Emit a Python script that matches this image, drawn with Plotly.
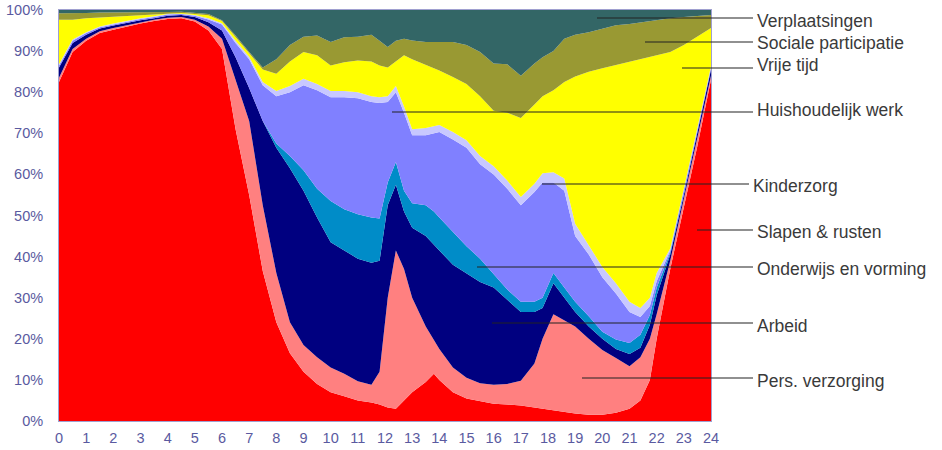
import plotly.graph_objects as go

# ---- data: hour of day and cumulative share (%) at the top of each layer ----
TIJD = [0, 0.5, 1, 1.5, 2, 2.5, 3, 3.5, 4, 4.5, 5, 5.5, 6, 6.5, 7, 7.5, 8, 8.5, 9, 9.5, 10, 10.5, 11, 11.5,
        11.8, 12.1, 12.4, 12.7, 13, 13.5, 13.8, 14, 14.5, 15, 15.5, 16, 16.5, 17, 17.5, 17.8,
        18.2, 18.6, 19, 19.5, 20, 20.5, 21, 21.4, 21.75, 22, 22.5, 23, 23.5, 24]

slapen_rusten = [82.5, 89.8, 92.5, 94.4, 95.2, 96, 96.7, 97.3, 97.8, 98, 97.2, 95, 90.5, 71, 55, 36.5, 24, 16.5, 12, 9, 7, 6, 5, 4.5,
                 4, 3.3, 3, 5, 7, 9.5, 11.5, 10, 7, 5.5, 4.8, 4.2, 4, 3.8, 3.3, 3,
                 2.7, 2.3, 1.8, 1.5, 1.5, 2, 3, 5, 10, 20, 37, 52, 67, 83]
pers_verzorging = [83.5, 90.5, 93, 94.8, 95.6, 96.3, 97, 97.6, 98.1, 98.3, 97.6, 96, 93, 83, 73, 52.5, 36, 24, 18.5, 15.5, 13, 11.5, 9.7, 8.8,
                   12, 30, 41.5, 37, 30, 23, 19.5, 17.5, 13, 10.5, 9.2, 8.8, 9, 9.8, 14, 20,
                   26, 24.5, 23, 20, 17.3, 15.3, 13.3, 15.5, 20, 26, 39, 54, 69, 84]
arbeid = [86, 92, 94, 95.5, 96.2, 96.9, 97.5, 98, 98.6, 98.8, 98.3, 97, 95, 88.5, 81, 73, 66.5, 61.5, 56, 49.5, 43.5, 41.5, 39.5, 38.5,
          39, 52.5, 57.5, 51, 47, 45, 43, 41.5, 38, 36, 33.8, 32.5, 29.5, 26.5, 26.5, 27.5,
          33.5, 30, 26.5, 23, 20, 17.5, 16.3, 17.8, 23.4, 30.6, 40.5, 55, 70, 85.5]
onderwijs = [86, 92, 94, 95.5, 96.2, 96.9, 97.5, 98, 98.6, 98.8, 98.3, 97, 95, 88.5, 81, 73, 67.5, 64.5, 61, 56.5, 53.5, 51.5, 50.3, 49.5,
             49.3, 58, 63, 56, 53, 52.5, 51, 49.5, 46, 42.5, 39.5, 35.8, 32, 29, 29, 30,
             36, 32.5, 29, 25.5, 21.7, 19.8, 19, 21, 25.8, 32.4, 41, 55.2, 70.1, 85.6]
huishoudelijk = [86.5, 92.5, 94.4, 95.8, 96.5, 97.2, 97.8, 98.3, 98.9, 99, 98.6, 97.7, 96.5, 92, 88, 81.7, 79, 80, 81.7, 80.5, 78.8, 78.8, 78.5, 77.6,
                 77.4, 77.6, 80, 75, 69.5, 69.5, 70, 70.3, 68.5, 66.5, 62.5, 60, 56.5, 52.5, 55.7, 58,
                 58, 56, 45, 40.5, 35, 31, 26.5, 25.3, 28, 34, 41.5, 56, 71, 86]
kinderzorg = [86.8, 92.8, 94.6, 96, 96.7, 97.4, 98, 98.5, 99, 99.1, 98.8, 98, 96.8, 92.5, 88.6, 82.5, 80.3, 81.5, 83.3, 82, 80.3, 80.3, 80, 79,
              78.8, 79, 81.5, 76.5, 71, 71.3, 71.8, 72, 70.3, 68.3, 64.5, 62, 58.5, 54.5, 57.7, 60.3,
              60.5, 59, 48, 42.8, 37.5, 33.5, 29, 27.5, 30, 36, 42, 56.5, 71.5, 86.3]
vrije_tijd = [97.6, 97.6, 98, 98.2, 98.3, 98.5, 98.8, 99, 99.2, 99.3, 99, 98.7, 97.3, 93.5, 89.5, 85.5, 84.5, 87.5, 89.8, 89, 86.5, 87.3, 87.7, 87.5,
              86.5, 86, 87.5, 89, 88, 86.6, 85.8, 85.3, 83.7, 82, 79, 75.5, 75, 73.7, 77, 79,
              80.5, 82.5, 83.8, 85, 85.8, 86.6, 87.5, 88.2, 88.7, 89, 89.8, 91.5, 93.5, 95.6]
sociale_participatie = [99.2, 99.2, 99.3, 99.4, 99.4, 99.5, 99.5, 99.5, 99.5, 99.6, 99.3, 99, 97.5, 93.8, 89.8, 86, 88, 91.5, 93.5, 93.8, 92.2, 93.4, 93.5, 94,
                        92.5, 91, 92.5, 93, 92.6, 92.2, 92.2, 92.2, 92.2, 91.5, 89.8, 87, 86.8, 84, 87, 88.5,
                        90, 93, 94, 94.6, 95.5, 96.3, 96.6, 97, 97.3, 97.5, 98, 98.3, 98.5, 98.8]
verplaatsingen = [100, 100, 100, 100, 100, 100, 100, 100, 100, 100, 100, 100, 100, 100, 100, 100, 100, 100, 100, 100, 100, 100, 100, 100,
                  100, 100, 100, 100, 100, 100, 100, 100, 100, 100, 100, 100, 100, 100, 100, 100,
                  100, 100, 100, 100, 100, 100, 100, 100, 100, 100, 100, 100, 100, 100]

X_TICKS = [0, 1, 2, 3, 4, 5, 6, 7, 8, 9, 10, 11, 12, 13, 14, 15, 16, 17, 18, 19, 20, 21, 22, 23, 24]
X_LABELS = ["0", "1", "2", "3", "4", "5", "6", "7", "8", "9", "10", "11", "12",
            "13", "14", "15", "16", "17", "18", "19", "20", "21", "22", "23", "24"]
Y_TICKS = [0, 10, 20, 30, 40, 50, 60, 70, 80, 90, 100]
Y_LABELS = ["0%", "10%", "20%", "30%", "40%", "50%", "60%", "70%", "80%", "90%", "100%"]

series = [
    ("Slapen & rusten", slapen_rusten, "#FF0000"),
    ("Pers. verzorging", pers_verzorging, "#FF8080"),
    ("Arbeid", arbeid, "#000080"),
    ("Onderwijs en vorming", onderwijs, "#008CC8"),
    ("Huishoudelijk werk", huishoudelijk, "#8080FF"),
    ("Kinderzorg", kinderzorg, "#C8C8FF"),
    ("Vrije tijd", vrije_tijd, "#FFFF00"),
    ("Sociale participatie", sociale_participatie, "#999933"),
    ("Verplaatsingen", verplaatsingen, "#336666"),
]

fig = go.Figure()
for i, (name, vals, col) in enumerate(series):
    fig.add_trace(go.Scatter(
        x=TIJD, y=vals, name=name, mode="lines",
        line=dict(width=0, color=col),
        fill="tozeroy" if i == 0 else "tonexty",
        fillcolor=col, hoverinfo="name",
    ))

# ---- layout geometry (page pixels; the page body margin is removed below) ----
W, H = 942, 450
L, R, T, B = 59, 711, 10, 421          # plot area in page pixels


def px(x):
    return (x - L) / (R - L)


def py(y):
    return (B - y) / (B - T)


# leader lines: (label, start_x, line_y, text_x, text_y) in page pixels
labels = [
    ("Verplaatsingen", 597, 18, 755, 21),
    ("Sociale participatie", 645, 42, 755, 43),
    ("Vrije tijd", 682, 68, 755, 65),
    ("Huishoudelijk werk", 392, 112, 755, 110),
    ("Kinderzorg", 542, 184, 751, 186),
    ("Slapen & rusten", 697, 230, 755, 232),
    ("Onderwijs en vorming", 477, 267, 755, 269),
    ("Arbeid", 492, 323, 755, 326),
    ("Pers. verzorging", 582, 378, 755, 381),
]
shapes = []
annotations = []
for text, sx, ly, tx, ty in labels:
    shapes.append(dict(type="line", xref="paper", yref="paper",
                       x0=px(sx), x1=px(tx - 2), y0=py(ly), y1=py(ly),
                       line=dict(color="#222222", width=1.2), layer="above"))
    annotations.append(dict(text=text, xref="paper", yref="paper",
                            x=px(tx), y=py(ty), xanchor="left", yanchor="middle",
                            showarrow=False,
                            font=dict(family="Liberation Sans, Arial", size=17.5, color="#3A3A3A")))

axis_font = dict(family="Liberation Sans, Arial", size=14.5, color="#5A5AA0")
fig.update_layout(
    width=W, height=H, autosize=False,
    margin=dict(l=L, r=W - R, t=T, b=H - B, pad=0),
    paper_bgcolor="white", plot_bgcolor="white",
    showlegend=False,
    shapes=shapes, annotations=annotations,
    xaxis=dict(range=[0, 24], tickmode="array", tickvals=X_TICKS, ticktext=X_LABELS,
               showgrid=False, zeroline=False, showline=True, mirror=True,
               linecolor="#A0A0D0", linewidth=1, ticks="", tickfont=axis_font,
               ticklabelstandoff=4, automargin=False),
    yaxis=dict(range=[0, 100], tickmode="array", tickvals=Y_TICKS, ticktext=Y_LABELS,
               showgrid=False, zeroline=False, showline=True, mirror=True,
               linecolor="#A0A0D0", linewidth=1, ticks="", tickfont=axis_font,
               ticklabelstandoff=12, automargin=False),
)

fig.write_html("out.html",
               config={"displayModeBar": False, "staticPlot": True},
               post_script="document.body.style.margin='0';document.body.style.overflow='hidden';")
